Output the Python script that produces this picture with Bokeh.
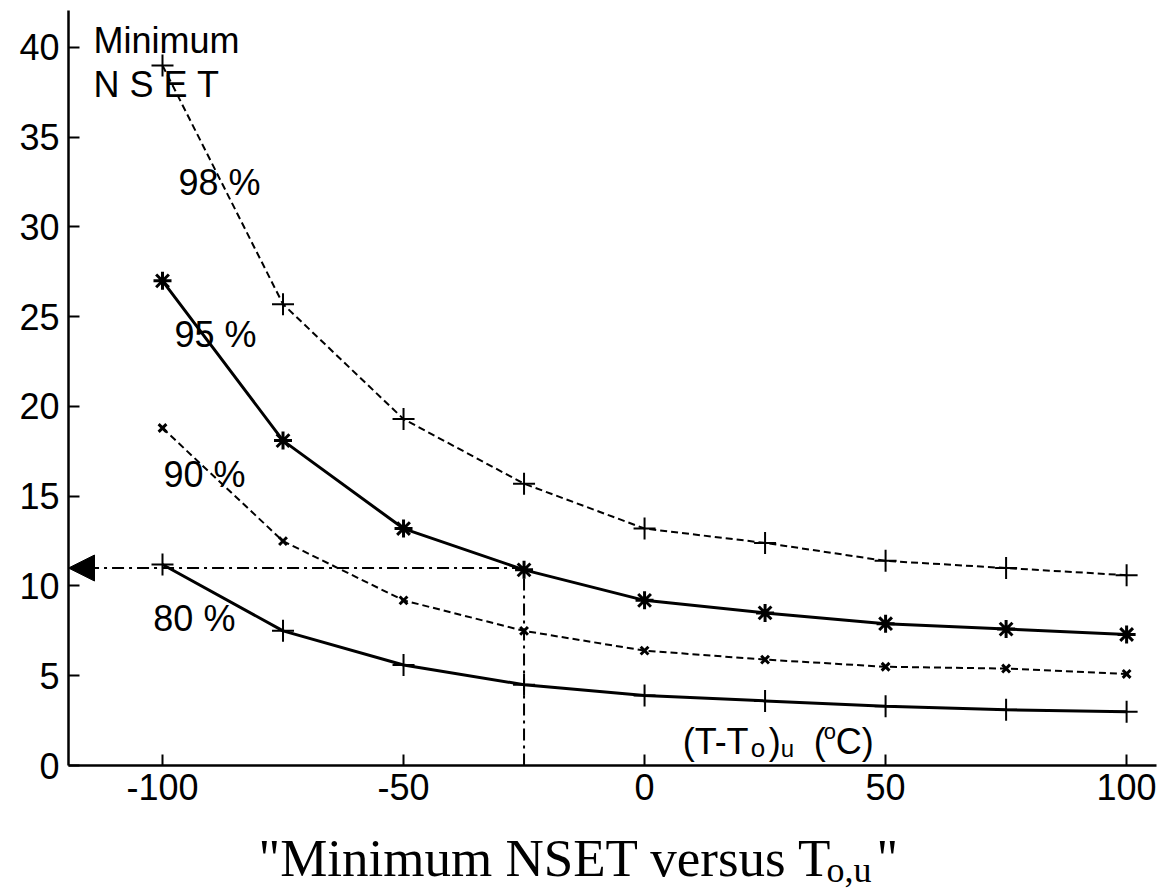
from bokeh.plotting import figure
from bokeh.layouts import column
from bokeh.models import Range1d, FixedTicker, Label, Arrow, NormalHead
from bokeh.core.properties import value
from bokeh.embed import file_html
from bokeh.resources import INLINE

temps = [-100, -75, -50, -25, 0, 25, 50, 75, 100]
nset_98 = [39.0, 25.7, 19.3, 15.7, 13.2, 12.4, 11.4, 11.0, 10.6]
nset_95 = [27.0, 18.1, 13.2, 10.9, 9.2, 8.5, 7.9, 7.6, 7.3]
nset_90 = [18.8, 12.5, 9.2, 7.5, 6.4, 5.9, 5.5, 5.4, 5.1]
nset_80 = [11.2, 7.5, 5.6, 4.5, 3.9, 3.6, 3.3, 3.1, 3.0]
x_ticks = [-100, -50, 0, 50, 100]
y_ticks = [0, 5, 10, 15, 20, 25, 30, 35, 40]
ref_temp = -25
ref_nset = 11

SANS = "Liberation Sans"
SERIF = "Liberation Serif"

p = figure(width=1158, height=825, output_backend="svg", toolbar_location=None,
           x_range=Range1d(-119.5, 106.2), y_range=Range1d(0, 42.06),
           min_border_left=68, min_border_right=2, min_border_top=10, min_border_bottom=60)
p.outline_line_color = None
p.xgrid.visible = False
p.ygrid.visible = False
p.background_fill_color = "white"
p.border_fill_color = "white"

for ax, ticks, stand in ((p.xaxis[0], x_ticks, 8), (p.yaxis[0], y_ticks, 9)):
    ax.ticker = FixedTicker(ticks=ticks)
    ax.major_label_overrides = {t: str(t) for t in ticks}
    ax.major_tick_in = 11
    ax.major_tick_out = 0
    ax.minor_tick_line_color = None
    ax.axis_line_width = 2.5
    ax.major_tick_line_width = 2
    ax.axis_line_color = "black"
    ax.major_tick_line_color = "black"
    ax.major_label_text_font = SANS
    ax.major_label_text_font_size = "36px"
    ax.major_label_text_color = "black"
    ax.major_label_standoff = stand

# series
p.line(temps, nset_98, line_color="black", line_width=2, line_dash="7 4")
p.scatter(temps, nset_98, marker="cross", size=22, line_color="black", line_width=2)

p.line(temps, nset_95, line_color="black", line_width=3)
p.scatter(temps, nset_95, marker="asterisk", size=18, line_color="black", line_width=3)

p.line(temps, nset_90, line_color="black", line_width=2, line_dash="7 4")
p.scatter(temps, nset_90, marker="x", size=11, line_color="black", line_width=3)

p.line(temps, nset_80, line_color="black", line_width=3)
p.scatter(temps, nset_80, marker="cross", size=22, line_color="black", line_width=2)

# reference dash-dot guide
p.line([ref_temp, ref_temp], [0, ref_nset], line_color="black", line_width=2, line_dash="12 5 3 5")
p.add_layout(Arrow(end=NormalHead(size=26, fill_color="black", line_color="black"),
                   x_start=ref_temp, y_start=ref_nset, x_end=-119.5, y_end=ref_nset,
                   line_color="black", line_width=2, line_dash="12 5 3 5"))

def lab(x, y, t, size="36px", font=SANS, xo=0, yo=0):
    p.add_layout(Label(x=x, y=y, text=t, text_font=font, text_font_size=size,
                       text_color="black", text_baseline="middle", text_align="left",
                       x_offset=xo, y_offset=yo))

lab(-114.3, 40.4, "Minimum")
lab(-114.3, 37.95, "N S E T")
lab(-96.7, 32.5, "98 %")
lab(-97.5, 24.0, "95 %")
lab(-99.8, 16.2, "90 %")
lab(-101.9, 8.2, "80 %")

# (T-To)u (oC)
lab(7.9, 1.34, "(T-T")
lab(7.9, 1.34, "o", size="26px", xo=68, yo=-7)
lab(7.9, 1.34, ")", xo=86)
lab(7.9, 1.34, "u", size="24px", xo=98, yo=-7)
lab(7.9, 1.34, "(", xo=131)
lab(7.9, 1.34, "o", size="22px", xo=141, yo=10)
lab(7.9, 1.34, "C)", xo=153)

# caption panel below the chart (its frame lines up with the chart frame, 68..1156 px)
c = figure(width=1158, height=68, output_backend="svg", toolbar_location=None,
           x_range=Range1d(68, 1156), y_range=Range1d(0, 68),
           x_axis_type=None, y_axis_type=None,
           min_border=0, min_border_left=0, min_border_right=0,
           min_border_top=0, min_border_bottom=0, outline_line_color=None)
c.title.visible = False
c.grid.visible = False
c.background_fill_color = "white"
c.border_fill_color = "white"
c.text(x=[258], y=[36], text=["\"Minimum NSET versus T"], text_font=value(SERIF),
       text_font_size="53px", text_color="black", text_baseline="middle")
c.text(x=[826], y=[24], text=["o,u"], text_font=value(SERIF),
       text_font_size="36px", text_color="black", text_baseline="middle")
c.text(x=[876], y=[36], text=["\""], text_font=value(SERIF),
       text_font_size="53px", text_color="black", text_baseline="middle")

layout = column(p, c, spacing=0)
open("out.html", "w").write(file_html(layout, INLINE))
